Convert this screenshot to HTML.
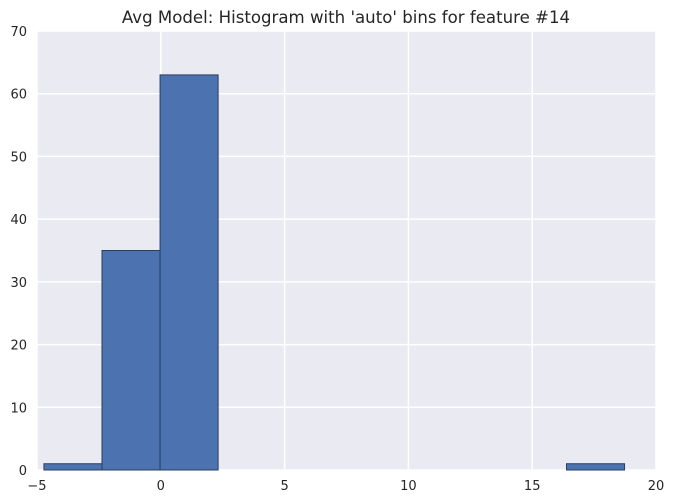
<!DOCTYPE html>
<html><head><meta charset="utf-8"><style>
body{margin:0;background:#fff;}
svg{display:block;font-family:"DejaVu Sans","Liberation Sans",sans-serif;}
</style></head><body>
<svg id="chart" width="673" height="504">
<rect x="37" y="31" width="619" height="439" fill="#eaeaf2"/>
<g id="grid"></g><g id="bars"></g><g id="ticks"></g>
<text x="346" y="23" text-anchor="middle" font-size="16.6" fill="#262626">Avg Model: Histogram with 'auto' bins for feature #14</text>
</svg>
<script>
const binStart = -4.72;
const binEnd = 18.73;
const counts = [1,35,63,0,0,0,0,0,0,1];
const xTicks = [-5,0,5,10,15,20];
const yTicks = [0,10,20,30,40,50,60,70];
const L=37,R=656,T=31,B=470;
const xs=v=>L+(v+5)/25*(R-L);
const ys=v=>B-v/70*(B-T);
const ns='http://www.w3.org/2000/svg';
function mk(t,a,p){const e=document.createElementNS(ns,t);for(const k in a)e.setAttribute(k,a[k]);p.appendChild(e);return e;}
const g=document.getElementById('grid'),b=document.getElementById('bars'),tk=document.getElementById('ticks');
xTicks.forEach(v=>{
 const l=mk('line',{x1:xs(v),x2:xs(v),y1:T,y2:B,stroke:'#fff','stroke-width':1.5},g);
 
 
 const t=mk('text',{x:xs(v),y:B+20,'text-anchor':'middle','font-size':13,fill:'#262626'},tk);
 t.textContent=v<0?'\u2212'+(-v):v;
 
 
});
yTicks.forEach(v=>{
 const l=mk('line',{x1:L,x2:R,y1:ys(v),y2:ys(v),stroke:'#fff','stroke-width':1.5},g);
 
 
 const t=mk('text',{x:L-10,y:ys(v)+5,'text-anchor':'end','font-size':13,fill:'#262626'},tk);
 t.textContent=v;
 
 
});
const w=(binEnd-binStart)/counts.length;
counts.forEach((c,i)=>{
 if(c<=0)return;
 const x0=xs(binStart+i*w),x1=xs(binStart+(i+1)*w);
 const r=mk('rect',{x:x0,y:ys(c),width:x1-x0,height:B-ys(c),fill:'#4c72b0',stroke:'#2a3f5f','stroke-width':1},b);
 
 
});
</script>
</body></html>
